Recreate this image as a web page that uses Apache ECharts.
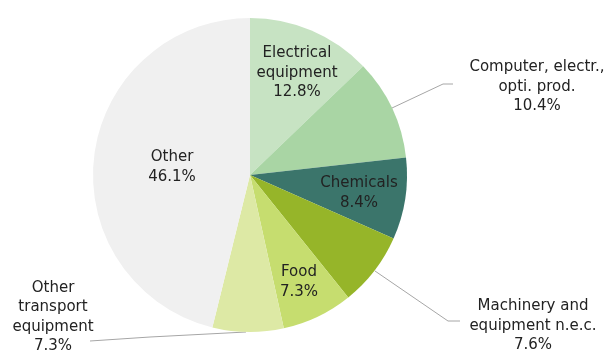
<!DOCTYPE html>
<html>
<head>
<meta charset="utf-8">
<script src="https://cdn.jsdelivr.net/npm/echarts@6/dist/echarts.min.js"></script>
<style>
  html, body { margin: 0; padding: 0; background: #ffffff; }
  #chart { width: 609px; height: 353px; }
</style>
</head>
<body>
<div id="chart"></div>
<script>
(function () {
    var sectors = ['Electrical\nequipment', 'Computer, electr.,\nopti. prod.', 'Chemicals',
        'Machinery and\nequipment n.e.c.', 'Food', 'Other\ntransport\nequipment', 'Other'];
    var shares = [12.8, 10.4, 8.4, 7.6, 7.3, 7.3, 46.1];
    var colors = ['#c7e3c3', '#a9d5a4', '#3b756b', '#96b529', '#c6dd6f', '#dde9a5', '#f0f0f0'];

    // label anchors (centre of text block) and leader lines for outside labels
    var labelPos = [[297, 73], [537, 87], [359, 193], [533, 326], [299, 282], [53, 317], [172, 167]];
    var leaders = {
        1: [[392, 108], [443, 84], [453, 84]],
        3: [[375, 271], [448, 321], [460, 321]],
        5: [[246, 332], [150, 337], [90, 341]]
    };

    var data = sectors.map(function (name, i) {
        var outside = leaders[i] !== undefined;
        return {
            name: name,
            value: shares[i],
            itemStyle: { color: colors[i] },
            label: { position: outside ? 'outside' : 'inside' },
            labelLine: { show: outside }
        };
    });

    var chart = echarts.init(document.getElementById('chart'));
    chart.setOption({
        animation: false,
        series: [{
            type: 'pie',
            center: [250, 175],
            radius: 157,
            startAngle: 90,
            clockwise: true,
            data: data,
            itemStyle: { borderWidth: 0 },
            label: {
                color: '#222222',
                fontFamily: 'DejaVu Sans',
                fontSize: 15,
                lineHeight: 19.5,
                align: 'center',
                formatter: function (p) {
                    return p.name + '\n' + p.value.toFixed(1) + '%';
                }
            },
            labelLine: {
                lineStyle: { color: '#a6a6a6', width: 1 }
            },
            labelLayout: function (p) {
                var i = p.dataIndex;
                var out = {
                    x: labelPos[i][0],
                    y: labelPos[i][1],
                    align: 'center',
                    verticalAlign: 'middle'
                };
                if (leaders[i]) {
                    out.labelLinePoints = leaders[i];
                }
                return out;
            }
        }]
    });
})();
</script>
</body>
</html>
